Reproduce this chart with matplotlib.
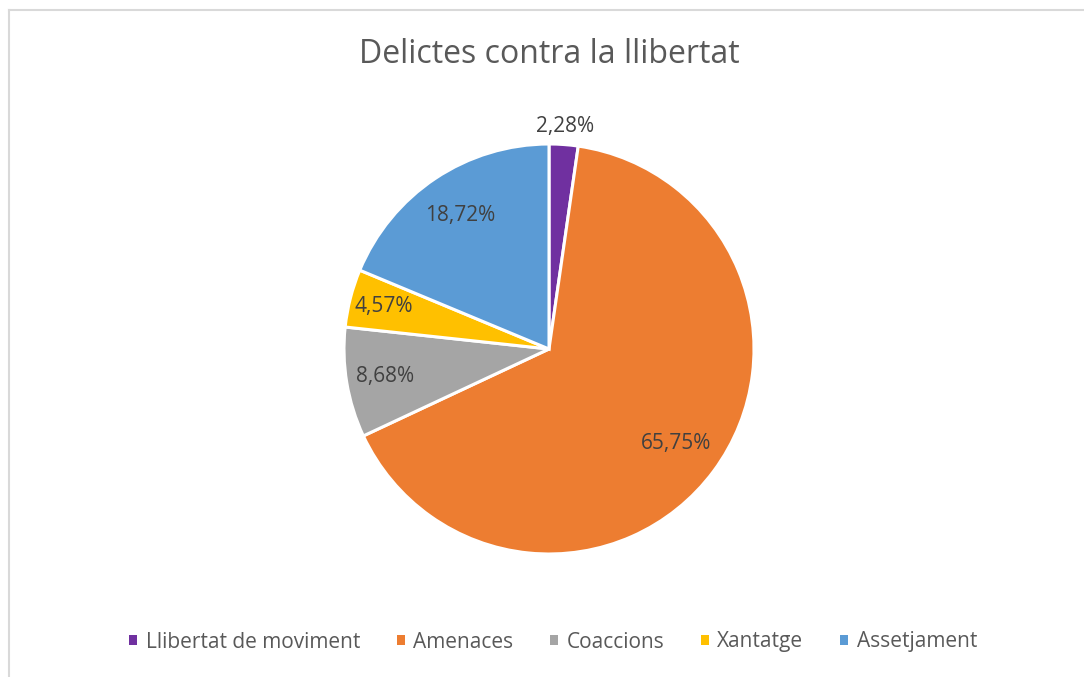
import matplotlib
matplotlib.use("Agg")
import matplotlib.pyplot as plt
from matplotlib.patches import Patch
from matplotlib.lines import Line2D
import numpy as np

categories = ["Llibertat de moviment", "Amenaces", "Coaccions", "Xantatge", "Assetjament"]
values = [2.28, 65.75, 8.68, 4.57, 18.72]
labels = ["2,28%", "65,75%", "8,68%", "4,57%", "18,72%"]
colors = ["#7030A0", "#ED7D31", "#A5A5A5", "#FFC000", "#5B9BD5"]
label_dist = [1.09, 0.77, 0.81, 0.83, 0.78]

plt.rcParams['font.family'] = ['Open Sans', 'DejaVu Sans']

W, H = 1084, 677
fig = plt.figure(figsize=(W / 100, H / 100), dpi=100)
fig.patch.set_facecolor("white")

cx, cy, r = 549, 349, 205
ax = fig.add_axes([(cx - r) / W, (H - cy - r) / H, 2 * r / W, 2 * r / H])
wedges, _ = ax.pie(values, colors=colors, startangle=90, counterclock=False,
                   radius=1.0, wedgeprops=dict(edgecolor="white", linewidth=2.2))
ax.set_xlim(-1, 1)
ax.set_ylim(-1, 1)
ax.set_aspect("equal")
ax.axis("off")

for w, lab, d in zip(wedges, labels, label_dist):
    ang = np.deg2rad((w.theta1 + w.theta2) / 2)
    ax.text(d * np.cos(ang), d * np.sin(ang), lab, ha="center", va="center",
            fontsize=15, color="#404040", clip_on=False)

fig.text(cx / W, 1 - 63 / H, "Delictes contra la llibertat", ha="center", va="baseline",
         fontsize=23, color="#595959")

handles = [Patch(facecolor=c, edgecolor="none") for c in colors]
fig.legend(handles, categories, loc="center", bbox_to_anchor=(553 / W, 1 - 642 / H),
           ncol=5, frameon=False, fontsize=15, labelcolor="#595959",
           handlelength=0.4, handleheight=0.4, handletextpad=0.4, columnspacing=1.75)

# chart area border (top and left visible)
fig.add_artist(Line2D([9 / W, 1.0], [1 - 10 / H, 1 - 10 / H], color="#D9D9D9", lw=1.5,
                      transform=fig.transFigure))
fig.add_artist(Line2D([9 / W, 9 / W], [0.0, 1 - 10 / H], color="#D9D9D9", lw=1.5,
                      transform=fig.transFigure))

fig.savefig("out.png", dpi=100, facecolor="white")
